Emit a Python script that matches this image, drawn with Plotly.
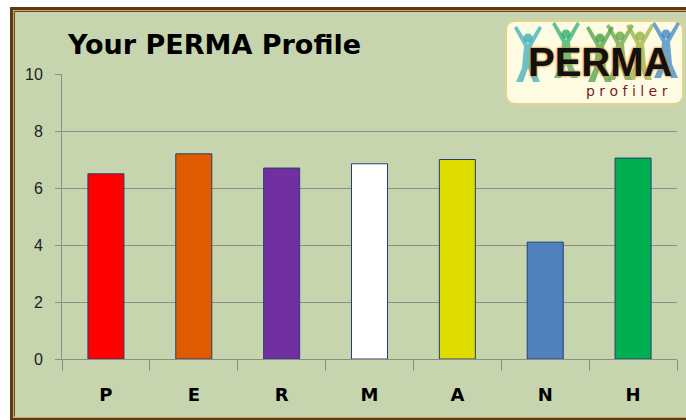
import plotly.graph_objects as go

# ---- data ----
categories = ["P", "E", "R", "M", "A", "N", "H"]
scores = [6.5, 7.2, 6.7, 6.85, 7.0, 4.1, 7.05]
bar_colors = ["#FF0000", "#DF5A00", "#7030A0", "#FFFFFF", "#DFDC00", "#4F81BD", "#00AF50"]
y_ticks = [0, 2, 4, 6, 8, 10]
title_text = "Your PERMA Profile"

# ---- geometry (pixels) ----
W, H = 686, 420
L, R, T, B = 62, 677, 74, 359


def px(x):
    return (x - L) / (R - L)


def py(y):
    return (B - y) / (B - T)


fig = go.Figure(
    go.Bar(
        x=categories,
        y=scores,
        marker=dict(color=bar_colors, line=dict(color="#233F75", width=1)),
        hoverinfo="x+y",
    )
)

shapes = []
# chart background
shapes.append(dict(type="rect", xref="paper", yref="paper", layer="below",
                   x0=px(10), x1=px(700), y0=py(7), y1=py(425),
                   fillcolor="#C7D5AE", line=dict(width=0)))
# brown double border
shapes.append(dict(type="rect", xref="paper", yref="paper", layer="above",
                   x0=px(11.5), x1=px(720), y0=py(8.5), y1=py(419.5),
                   fillcolor="rgba(0,0,0,0)", line=dict(color="#5E3A12", width=3)))
shapes.append(dict(type="rect", xref="paper", yref="paper", layer="above",
                   x0=px(13.5), x1=px(720), y0=py(10.5), y1=py(417.5),
                   fillcolor="rgba(0,0,0,0)", line=dict(color="#C9A878", width=1)))
shapes.append(dict(type="path", xref="paper", yref="paper", layer="above",
                   path=f"M {px(720)},{py(11.5)} L {px(14.5)},{py(11.5)} L {px(14.5)},{py(416.5)}",
                   line=dict(color="#6B4518", width=1)))

# logo rounded box
x0, x1, y0, y1, r = 506, 683, 21, 104, 10
path = (f"M {px(x0 + r)},{py(y0)} L {px(x1 - r)},{py(y0)} "
        f"Q {px(x1)},{py(y0)} {px(x1)},{py(y0 + r)} L {px(x1)},{py(y1 - r)} "
        f"Q {px(x1)},{py(y1)} {px(x1 - r)},{py(y1)} L {px(x0 + r)},{py(y1)} "
        f"Q {px(x0)},{py(y1)} {px(x0)},{py(y1 - r)} L {px(x0)},{py(y0 + r)} "
        f"Q {px(x0)},{py(y0)} {px(x0 + r)},{py(y0)} Z")
shapes.append(dict(type="path", xref="paper", yref="paper", layer="above",
                   path=path, fillcolor="#FDFCE2", line=dict(color="#E2D48C", width=2)))

# simple jumping-figure silhouettes behind the logo text
figs = [(528, 38, "#2FA6B8"), (566, 34, "#22A86A"), (600, 38, "#3C9A3A"),
        (620, 36, "#5FA040"), (640, 36, "#8FAE3A"), (666, 34, "#2F7FC8")]
for cx, hy, col in figs:
    shapes.append(dict(type="circle", xref="paper", yref="paper", layer="above",
                       x0=px(cx - 4.5), x1=px(cx + 4.5), y0=py(hy - 4.5), y1=py(hy + 4.5),
                       fillcolor=col, line=dict(width=0), opacity=0.75))
    shapes.append(dict(type="path", xref="paper", yref="paper", layer="above",
                       path=(f"M {px(cx - 14)},{py(hy - 10)} L {px(cx - 4)},{py(hy + 8)} L {px(cx - 6)},{py(hy + 30)} "
                             f"L {px(cx - 12)},{py(hy + 44)} L {px(cx - 5)},{py(hy + 44)} L {px(cx)},{py(hy + 30)} "
                             f"L {px(cx + 5)},{py(hy + 44)} L {px(cx + 12)},{py(hy + 44)} L {px(cx + 6)},{py(hy + 30)} "
                             f"L {px(cx + 4)},{py(hy + 8)} L {px(cx + 14)},{py(hy - 10)} L {px(cx + 11)},{py(hy - 12)} "
                             f"L {px(cx)},{py(hy + 6)} L {px(cx - 11)},{py(hy - 12)} Z"),
                       fillcolor=col, line=dict(width=0), opacity=0.7))

annotations = [
    dict(text=f"<b>{title_text}</b>", xref="paper", yref="paper",
         x=px(65), y=py(45), xanchor="left", yanchor="middle", showarrow=False,
         font=dict(family="Comic Sans MS, DejaVu Sans, sans-serif", size=27, color="#000000")),
    dict(text="<b>PERMA</b>", xref="paper", yref="paper",
         x=px(600), y=py(62), xanchor="center", yanchor="middle", showarrow=False,
         font=dict(family="Liberation Sans, Arial, sans-serif", size=40, color="#111111",
                   shadow="0px 0px 2px #E08A2A, 0px 0px 3px #E08A2A")),
    dict(text="p r o f i l e r", xref="paper", yref="paper",
         x=px(627), y=py(91), xanchor="center", yanchor="middle", showarrow=False,
         font=dict(family="DejaVu Sans, sans-serif", size=14, color="#7A1C2C")),
]

fig.update_layout(
    width=W, height=H,
    margin=dict(l=L, r=W - R, t=T, b=H - B, pad=0),
    paper_bgcolor="#FFFFFF",
    plot_bgcolor="rgba(0,0,0,0)",
    bargap=0.59,
    showlegend=False,
    shapes=shapes,
    annotations=annotations,
    xaxis=dict(
        type="category",
        showgrid=False,
        showline=True, linecolor="#8C8C8C", linewidth=1,
        ticks="outside", tickson="boundaries", ticklen=11, tickcolor="#8C8C8C",
        ticklabelstandoff=19,
        tickfont=dict(family="DejaVu Sans, sans-serif", size=18, color="#000000", weight="bold"),
    ),
    yaxis=dict(
        range=[0, 10],
        tickvals=y_ticks,
        showgrid=True, gridcolor="#8C8C8C", gridwidth=1,
        showline=True, linecolor="#8C8C8C", linewidth=1,
        ticks="outside", ticklen=6, tickcolor="#8C8C8C",
        ticklabelstandoff=9,
        zeroline=False,
        tickfont=dict(family="Liberation Sans, Arial, sans-serif", size=16, color="#222222"),
    ),
)

fig.write_html(
    "out.html",
    config={"displayModeBar": False},
    post_script="document.body.style.margin='0';document.body.style.overflow='hidden';",
)
